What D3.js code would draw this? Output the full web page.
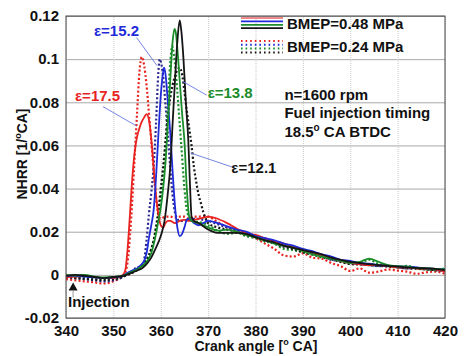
<!DOCTYPE html>
<html>
<head>
<meta charset="utf-8">
<script src="https://cdn.jsdelivr.net/npm/d3@7"></script>
<style>
  body { margin: 0; background: #fff; }
  svg text { font-family: "Liberation Sans", Arial, sans-serif; font-weight: bold; }
</style>
</head>
<body>
<svg id="chart" width="465" height="356"></svg>
<script>
/* ------------------------------------------------------------
   NHRR vs crank angle
------------------------------------------------------------ */

const X_TICKS = [340, 350, 360, 370, 380, 390, 400, 410, 420];
const Y_TICKS = [-0.02, 0, 0.02, 0.04, 0.06, 0.08, 0.1, 0.12];
const Y_TICK_LABELS = ["-0.02", "0", "0.02", "0.04", "0.06", "0.08", "0.1", "0.12"];

// tail angles shared by every curve (370..420 every 2 deg)
const TAIL_ANGLES = [370, 372, 374, 376, 378, 380, 382, 384, 386, 388, 390, 392, 394,
                     396, 398, 400, 402, 404, 406, 408, 410, 412, 414, 416, 418, 420];

// --- epsilon = 17.5 (red)
const redSolidHead = [[340,-0.001],[342,-0.0008],[344,-0.0005],[346,-0.001],[348,-0.0015],[350,-0.0015],[351,-0.001],[352,0],
  [352.5,0.002],[353,0.012],[353.5,0.028],[354,0.045],[354.5,0.057],[355,0.064],[355.5,0.068],[356,0.071],[356.5,0.073],
  [357,0.0745],[357.5,0.072],[358,0.063],[358.5,0.05],[359,0.037],[359.5,0.028],[360,0.023],[360.5,0.022],[361,0.024],
  [361.5,0.025],[362,0.025],[363,0.024],[364,0.025],[365,0.0255],[366,0.025],[367,0.0255],[368,0.026],[369,0.0265]];
const redSolidTail = [0.027,0.026,0.024,0.0215,0.0195,0.0185,0.017,0.0155,0.0145,0.013,0.0115,0.0105,0.009,
  0.008,0.0065,0.0055,0.005,0.0045,0.0045,0.004,0.0035,0.0035,0.003,0.0028,0.0025,0.0015];

const redDotHead = [[340,-0.002],[342,-0.0025],[344,-0.003],[346,-0.0035],[348,-0.004],[350,-0.003],[351,-0.002],[352,-0.0005],
  [352.5,0.001],[353,0.006],[353.5,0.018],[354,0.035],[354.5,0.055],[355,0.075],[355.5,0.094],[356,0.101],[356.5,0.097],
  [357,0.088],[357.5,0.075],[358,0.062],[358.5,0.048],[359,0.036],[359.5,0.028],[360,0.026],[361,0.027],[362,0.027],
  [363,0.0265],[364,0.027],[365,0.027],[366,0.026],[367,0.027],[368,0.027],[369,0.0272]];
const redDotTail = [0.027,0.0245,0.022,0.02,0.019,0.017,0.0145,0.012,0.009,0.0085,0.01,0.008,0.0075,
  0.0055,0.004,0.0018,0.003,0.001,0.0015,0.0025,0.002,0.0015,0.0005,0.0012,0.0015,0.0005];

// --- epsilon = 15.2 (blue)
const blueSolidHead = [[340,-0.0005],[342,-0.0005],[344,-0.0008],[346,-0.0012],[348,-0.0015],[350,-0.0012],[352,-0.0005],
  [353,0.001],[354,0.002],[355,0.003],[356,0.005],[356.5,0.0065],[357,0.01],[357.5,0.017],[358,0.023],[358.5,0.03],
  [359,0.045],[359.5,0.065],[360,0.083],[360.5,0.094],[360.7,0.096],[361,0.093],[361.5,0.08],[362,0.066],[362.5,0.048],
  [363,0.032],[363.5,0.022],[364,0.018],[364.5,0.019],[365,0.022],[365.5,0.0255],[366,0.026],[367,0.024],[368,0.023],[369,0.024]];
const blueSolidTail = [0.025,0.024,0.0225,0.021,0.02,0.018,0.017,0.016,0.0145,0.0135,0.012,0.011,0.0095,
  0.0085,0.007,0.0065,0.0055,0.0052,0.0045,0.0042,0.004,0.0038,0.0035,0.003,0.0028,0.0025];

const blueDotHead = [[340,-0.001],[342,-0.0015],[344,-0.002],[346,-0.0025],[348,-0.003],[350,-0.0025],[352,-0.001],
  [353,0.0005],[354,0.002],[355,0.0035],[356,0.004],[356.5,0.007],[357,0.016],[357.5,0.028],[358,0.038],[358.5,0.05],
  [359,0.07],[359.5,0.094],[359.8,0.1],[360,0.099],[360.5,0.092],[361,0.079],[361.5,0.065],[362,0.05],[362.5,0.037],
  [363,0.029],[363.5,0.026],[364,0.025],[365,0.025],[366,0.026],[367,0.026],[368,0.026],[369,0.0255]];
const blueDotTail = [0.025,0.0235,0.022,0.021,0.019,0.0175,0.0165,0.015,0.0135,0.0125,0.0115,0.01,0.009,
  0.007,0.0065,0.0055,0.005,0.0045,0.004,0.0042,0.0035,0.003,0.0032,0.0028,0.0022,0.002];

// --- epsilon = 13.8 (green)
const greenSolidHead = [[340,0],[342,-0.0003],[344,0],[346,-0.0008],[348,-0.0012],[350,-0.001],[352,-0.0003],
  [353,0.0005],[354,0.0015],[355,0.0025],[356,0.004],[357,0.006],[358,0.01],[358.5,0.014],[359,0.019],[359.5,0.025],
  [360,0.031],[360.5,0.04],[361,0.052],[361.5,0.07],[362,0.09],[362.5,0.108],[362.9,0.114],[363.2,0.112],[363.5,0.105],
  [364,0.09],[364.5,0.075],[365,0.062],[365.5,0.04],[366,0.027],[366.5,0.025],[367,0.0245],[368,0.024],[369,0.023]];
const greenSolidTail = [0.022,0.0205,0.021,0.02,0.0185,0.0175,0.016,0.0145,0.0135,0.0125,0.011,0.0095,0.0085,
  0.0075,0.0065,0.0055,0.006,0.0075,0.006,0.0045,0.004,0.0038,0.0032,0.003,0.0028,0.0025];

const greenDotHead = [[340,-0.0008],[342,-0.001],[344,-0.0012],[346,-0.0018],[348,-0.002],[350,-0.0018],[352,-0.0008],
  [353,0.0005],[354,0.0015],[355,0.003],[356,0.0045],[357,0.007],[358,0.012],[358.5,0.016],[359,0.022],[359.5,0.028],
  [360,0.036],[360.5,0.046],[361,0.06],[361.5,0.08],[362,0.098],[362.4,0.106],[362.8,0.102],[363.5,0.085],[364,0.07],
  [364.5,0.055],[365,0.04],[365.5,0.03],[366,0.027],[367,0.025],[368,0.0245],[369,0.024]];
const greenDotTail = [0.023,0.0205,0.019,0.0195,0.018,0.017,0.0155,0.0145,0.012,0.0115,0.0105,0.0095,0.008,
  0.0075,0.0062,0.0052,0.0055,0.007,0.005,0.004,0.0035,0.0042,0.003,0.0025,0.0022,0.003];

// --- epsilon = 12.1 (black)
const blackSolidHead = [[340,-0.0005],[342,0],[344,-0.0005],[346,-0.001],[348,-0.0015],[350,-0.001],[352,-0.0005],
  [354,0.001],[355,0.002],[356,0.003],[357,0.005],[358,0.008],[359,0.0126],[360,0.018],[360.8,0.025],[361.5,0.038],
  [362,0.05],[362.5,0.07],[363,0.09],[363.5,0.108],[364,0.118],[364.3,0.114],[364.8,0.1],[365.3,0.08],[365.8,0.063],
  [366.2,0.04],[366.5,0.027],[367,0.025],[368,0.024],[369,0.0225]];
const blackSolidTail = [0.021,0.0195,0.0195,0.0195,0.019,0.0175,0.016,0.015,0.0135,0.0125,0.0115,0.0105,0.0095,
  0.008,0.007,0.006,0.0055,0.005,0.0045,0.0042,0.0038,0.0035,0.0032,0.003,0.0028,0.0022];

const blackDotHead = [[340,-0.001],[342,-0.0015],[344,-0.0018],[346,-0.0022],[348,-0.0025],[350,-0.002],[352,-0.0008],
  [354,0.001],[356,0.004],[357,0.007],[358,0.012],[358.5,0.016],[359,0.022],[359.5,0.03],[360,0.04],[360.5,0.05],
  [361,0.062],[361.5,0.073],[362,0.082],[362.5,0.088],[363,0.092],[363.5,0.095],[364,0.096],[364.5,0.093],[365,0.085],
  [365.5,0.076],[366,0.068],[366.5,0.06],[367,0.05],[367.5,0.043],[368,0.037],[368.5,0.033],[369,0.029],[369.5,0.026]];
const blackDotTail = [0.024,0.022,0.021,0.02,0.0185,0.0175,0.016,0.0145,0.013,0.012,0.0105,0.0095,0.0085,
  0.0072,0.006,0.005,0.0048,0.0045,0.0042,0.0038,0.0035,0.003,0.0028,0.0025,0.0022,0.0018];

const COLORS = { red: "#e8231f", blue: "#1f2bd8", navy: "#28288e", green: "#1a8c2a", black: "#151515" };

/* ------------------------------------------------------------
   LAYOUT
------------------------------------------------------------ */

const W = 465, H = 356;
const margin = { top: 16, right: 20, bottom: 38, left: 66 };
const iw = W - margin.left - margin.right;
const ih = H - margin.top - margin.bottom;

const svg = d3.select("#chart");
const g = svg.append("g").attr("transform", `translate(${margin.left},${margin.top})`);

const x = d3.scaleLinear().domain([340, 420]).range([0, iw]);
const y = d3.scaleLinear().domain([-0.02, 0.12]).range([ih, 0]);

function buildSeries(head, tail) {
  return head.concat(TAIL_ANGLES.map((a, i) => [a, tail[i]]));
}

const SERIES = [
  { pts: buildSeries(redDotHead, redDotTail), color: COLORS.red, dotted: true },
  { pts: buildSeries(blueDotHead, blueDotTail), color: COLORS.navy, dotted: true },
  { pts: buildSeries(greenDotHead, greenDotTail), color: COLORS.green, dotted: true },
  { pts: buildSeries(blackDotHead, blackDotTail), color: COLORS.black, dotted: true },
  { pts: buildSeries(redSolidHead, redSolidTail), color: COLORS.red, dotted: false },
  { pts: buildSeries(blueSolidHead, blueSolidTail), color: COLORS.blue, dotted: false },
  { pts: buildSeries(greenSolidHead, greenSolidTail), color: COLORS.green, dotted: false },
  { pts: buildSeries(blackSolidHead, blackSolidTail), color: COLORS.black, dotted: false }
];

/* ------------------------------------------------------------
   GRID + FRAME
------------------------------------------------------------ */

g.append("g")
  .call(d3.axisLeft(y).tickValues(Y_TICKS).tickSize(-iw).tickFormat(""))
  .call(a => a.select(".domain").remove())
  .call(a => a.selectAll("line").attr("stroke", "#a8a8a8").attr("stroke-width", 1));

g.append("g")
  .attr("transform", `translate(0,${ih})`)
  .call(d3.axisBottom(x).tickValues(X_TICKS).tickSize(-ih).tickFormat(""))
  .call(a => a.select(".domain").remove())
  .call(a => a.selectAll("line").attr("stroke", "#c8c8c8").attr("stroke-dasharray", "1,1"));

// tick labels
g.append("g")
  .call(d3.axisLeft(y).tickValues(Y_TICKS).tickSize(0).tickPadding(7)
    .tickFormat((d, i) => Y_TICK_LABELS[i]))
  .call(a => a.select(".domain").remove())
  .call(a => a.selectAll("text").attr("font-size", 15).attr("fill", "#111")
    .attr("font-family", "Liberation Sans, Arial, sans-serif").attr("font-weight", "bold"));

g.append("g")
  .attr("transform", `translate(0,${ih})`)
  .call(d3.axisBottom(x).tickValues(X_TICKS).tickSize(0).tickPadding(7))
  .call(a => a.select(".domain").remove())
  .call(a => a.selectAll("text").attr("font-size", 15).attr("fill", "#111")
    .attr("font-family", "Liberation Sans, Arial, sans-serif").attr("font-weight", "bold"));

/* ------------------------------------------------------------
   CURVES
------------------------------------------------------------ */

g.append("clipPath").attr("id", "clip")
  .append("rect").attr("width", iw).attr("height", ih);

const line = d3.line()
  .x(d => x(d[0]))
  .y(d => y(d[1]))
  .curve(d3.curveMonotoneX);

g.append("g").attr("clip-path", "url(#clip)")
  .selectAll("path")
  .data(SERIES)
  .enter()
  .append("path")
  .attr("d", d => line(d.pts))
  .attr("fill", "none")
  .attr("stroke", d => d.color)
  .attr("stroke-width", d => d.dotted ? 2.2 : 1.8)
  .attr("stroke-dasharray", d => d.dotted ? "2,2.2" : null);

g.append("rect")
  .attr("width", iw).attr("height", ih)
  .attr("fill", "none").attr("stroke", "#444").attr("stroke-width", 1);

/* ------------------------------------------------------------
   ANNOTATIONS
------------------------------------------------------------ */

const LEADERS = [
  { from: [345.9 + 9, 0.110], to: [359.2, 0.097] },
  { from: [347.8, 0.078], to: [354.9, 0.069] },
  { from: [369.7, 0.0833], to: [364.6, 0.0897] },
  { from: [375.6, 0.0496], to: [366.3, 0.0565] }
];

g.selectAll(".leader")
  .data(LEADERS)
  .enter()
  .append("line")
  .attr("x1", d => x(d.from[0])).attr("y1", d => y(d.from[1]))
  .attr("x2", d => x(d.to[0])).attr("y2", d => y(d.to[1]))
  .attr("stroke", "#6677e0").attr("stroke-width", 0.9);

const EPS_LABELS = [
  { text: "ε=17.5", at: [341.9, 0.0805], color: COLORS.red },
  { text: "ε=15.2", at: [345.9, 0.1105], color: COLORS.blue },
  { text: "ε=13.8", at: [369.9, 0.0819], color: COLORS.green },
  { text: "ε=12.1", at: [374.9, 0.047], color: COLORS.black }
];

g.selectAll(".eps")
  .data(EPS_LABELS)
  .enter()
  .append("text")
  .attr("x", d => x(d.at[0]))
  .attr("y", d => y(d.at[1]))
  .attr("fill", d => d.color)
  .attr("font-size", 15)
  .text(d => d.text);

// info text
const info = g.append("g").attr("fill", "#111").attr("font-size", 15);
info.append("text").attr("x", x(386.1)).attr("y", 100 - margin.top).text("n=1600 rpm");
info.append("text").attr("x", x(386.1)).attr("y", 118 - margin.top).text("Fuel injection timing");
const t3 = info.append("text").attr("x", x(386.1)).attr("y", 137 - margin.top);
t3.append("tspan").text("18.5");
t3.append("tspan").attr("font-size", 10).attr("dy", -6).text("o");
t3.append("tspan").attr("dy", 6).text(" CA BTDC");

// legend
const LEGEND_COLORS = [COLORS.red, COLORS.blue, COLORS.green, COLORS.black];
const leg = svg.append("g");
LEGEND_COLORS.forEach((c, i) => {
  leg.append("line").attr("x1", 241).attr("x2", 283)
    .attr("y1", 18 + i * 3.4).attr("y2", 18 + i * 3.4)
    .attr("stroke", i === 0 ? "#f08a8a" : c).attr("stroke-width", 1.8);
  leg.append("line").attr("x1", 241).attr("x2", 283)
    .attr("y1", 41 + i * 3.8).attr("y2", 41 + i * 3.8)
    .attr("stroke", c).attr("stroke-width", 2).attr("stroke-dasharray", "1.6,3");
});
leg.append("text").attr("x", 287).attr("y", 29).attr("font-size", 15).attr("fill", "#111").text("BMEP=0.48 MPa");
leg.append("text").attr("x", 287).attr("y", 52).attr("font-size", 15).attr("fill", "#111").text("BMEP=0.24 MPa");

// injection marker
const injX = x(341.5);
g.append("path")
  .attr("d", `M${injX},${y(-0.0035)} l-4.5,8 l9,0 Z`)
  .attr("fill", "#111");
g.append("line")
  .attr("x1", injX).attr("x2", injX)
  .attr("y1", y(-0.0035) + 8).attr("y2", y(-0.0105))
  .attr("stroke", "#999").attr("stroke-width", 1);
g.append("text").attr("x", 2).attr("y", y(-0.015)).attr("font-size", 15).attr("fill", "#111").text("Injection");

/* ------------------------------------------------------------
   AXIS TITLES
------------------------------------------------------------ */

const xt = svg.append("text")
  .attr("x", 256).attr("y", 351)
  .attr("text-anchor", "middle").attr("font-size", 14).attr("fill", "#111");
xt.append("tspan").text("Crank angle [");
xt.append("tspan").attr("font-size", 9).attr("dy", -6).text("o");
xt.append("tspan").attr("dy", 6).text(" CA]");

const yt = svg.append("text")
  .attr("transform", "translate(27,154) rotate(-90)")
  .attr("text-anchor", "middle").attr("font-size", 14).attr("fill", "#111");
yt.append("tspan").text("NHRR [1/");
yt.append("tspan").attr("font-size", 9).attr("dy", -6).text("o");
yt.append("tspan").attr("dy", 6).text("CA]");
</script>
</body>
</html>
